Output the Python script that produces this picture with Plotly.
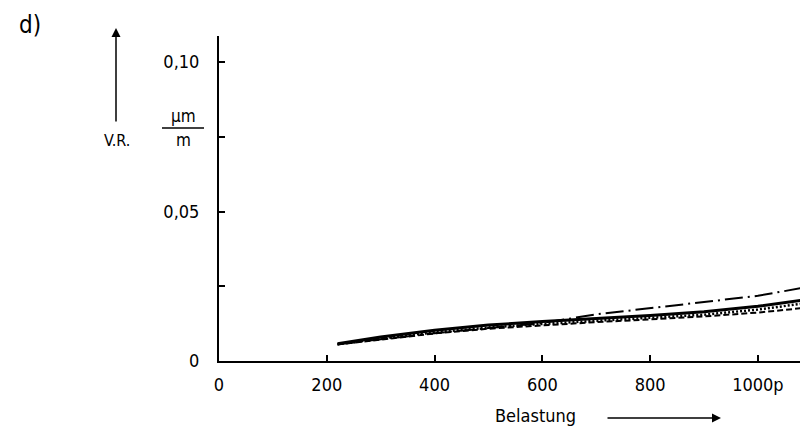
import plotly.graph_objects as go

# Data
belastung = [220, 300, 400, 500, 600, 700, 800, 900, 1000, 1100]
vr_solid = [0.0058, 0.0080, 0.0103, 0.0120, 0.0132, 0.0142, 0.0152, 0.0165, 0.0183, 0.0208]
vr_dotted = [0.0056, 0.0075, 0.0096, 0.0112, 0.0124, 0.0134, 0.0143, 0.0155, 0.0172, 0.0196]
vr_dashed = [0.0055, 0.0072, 0.0092, 0.0108, 0.0120, 0.0130, 0.0139, 0.0149, 0.0162, 0.0180]
vr_dashdot = [0.0056, 0.0073, 0.0093, 0.0110, 0.0127, 0.0156, 0.0176, 0.0196, 0.0218, 0.0250]

x_tickvals = [0, 200, 400, 600, 800, 1000]
x_ticktext = ["0", "200", "400", "600", "800", "1000p"]
y_tickvals = [0, 0.025, 0.05, 0.075, 0.10]
y_ticktext = ["0", "", "0,05", "", "0,10"]

FONT = "Liberation Sans Narrow, DejaVu Sans Condensed, DejaVu Sans, sans-serif"

# The page body has an 8px default margin; size the figure so it fills the window.
OFF = 8
W, H = 808 - OFF, 433 - OFF
# plot area in screen pixels
SL, ST, SB = 219, 36, 361
L, T = SL - OFF, ST - OFF
B = H - (SB - OFF)
R = 0
PW, PH = W - L - R, H - T - B

def px(x):
    return (x - OFF - L) / PW

def py(y):
    return (H - B - (y - OFF)) / PH

fig = go.Figure()
fig.add_trace(go.Scatter(x=belastung, y=vr_dashed, mode="lines",
                         line=dict(color="black", width=2, dash="6px,3px"), showlegend=False))
fig.add_trace(go.Scatter(x=belastung, y=vr_dotted, mode="lines",
                         line=dict(color="black", width=2.5, dash="2px,2px"), showlegend=False))
fig.add_trace(go.Scatter(x=belastung, y=vr_dashdot, mode="lines",
                         line=dict(color="black", width=2, dash="18px,5px,2px,5px"), showlegend=False))
fig.add_trace(go.Scatter(x=belastung, y=vr_solid, mode="lines",
                         line=dict(color="black", width=3), showlegend=False))

fig.update_layout(
    width=W, height=H,
    margin=dict(l=L, r=R, t=T, b=B, pad=0),
    paper_bgcolor="white", plot_bgcolor="white",
    font=dict(family=FONT, color="black", size=18),
    xaxis=dict(range=[0, 1093], showline=True, linewidth=2, linecolor="black",
               ticks="inside", ticklen=6, tickwidth=1.5, tickcolor="black",
               tickvals=x_tickvals, ticktext=x_ticktext, ticklabelstandoff=6,
               showgrid=False, zeroline=False, tickfont=dict(size=18)),
    yaxis=dict(range=[0, 0.1087], showline=True, linewidth=2, linecolor="black",
               ticks="inside", ticklen=6, tickwidth=1.5, tickcolor="black",
               tickvals=y_tickvals, ticktext=y_ticktext, ticklabelstandoff=14,
               showgrid=False, zeroline=False, tickfont=dict(size=18)),
)

ann = []
ann.append(dict(text="d)", x=px(17), y=py(25), xref="paper", yref="paper",
                xanchor="left", yanchor="middle", showarrow=False, font=dict(size=24)))
ann.append(dict(text="V.R.", x=px(117), y=py(140), xref="paper", yref="paper",
                xanchor="center", yanchor="middle", showarrow=False, font=dict(size=16)))
# vertical arrow
ann.append(dict(text="", x=px(116), y=py(28), xref="paper", yref="paper",
                ax=0, ay=95, axref="pixel", ayref="pixel",
                showarrow=True, arrowhead=2, arrowsize=1.2, arrowwidth=1.5, arrowcolor="black"))
# unit fraction
ann.append(dict(text="µm", x=px(183), y=py(116), xref="paper", yref="paper",
                xanchor="center", yanchor="middle", showarrow=False, font=dict(size=17)))
ann.append(dict(text="m", x=px(183), y=py(140), xref="paper", yref="paper",
                xanchor="center", yanchor="middle", showarrow=False, font=dict(size=17)))
# axis title
ann.append(dict(text="Belastung", x=px(535), y=py(415), xref="paper", yref="paper",
                xanchor="center", yanchor="middle", showarrow=False, font=dict(size=18)))
ann.append(dict(text="", x=px(721), y=py(418), xref="paper", yref="paper",
                ax=-115, ay=0, axref="pixel", ayref="pixel",
                showarrow=True, arrowhead=2, arrowsize=1.2, arrowwidth=1.5, arrowcolor="black"))
fig.update_layout(annotations=ann)

fig.add_shape(type="line", xref="paper", yref="paper",
              x0=px(162), x1=px(204), y0=py(128), y1=py(128),
              line=dict(color="black", width=1.5))

fig.write_html("out.html")
